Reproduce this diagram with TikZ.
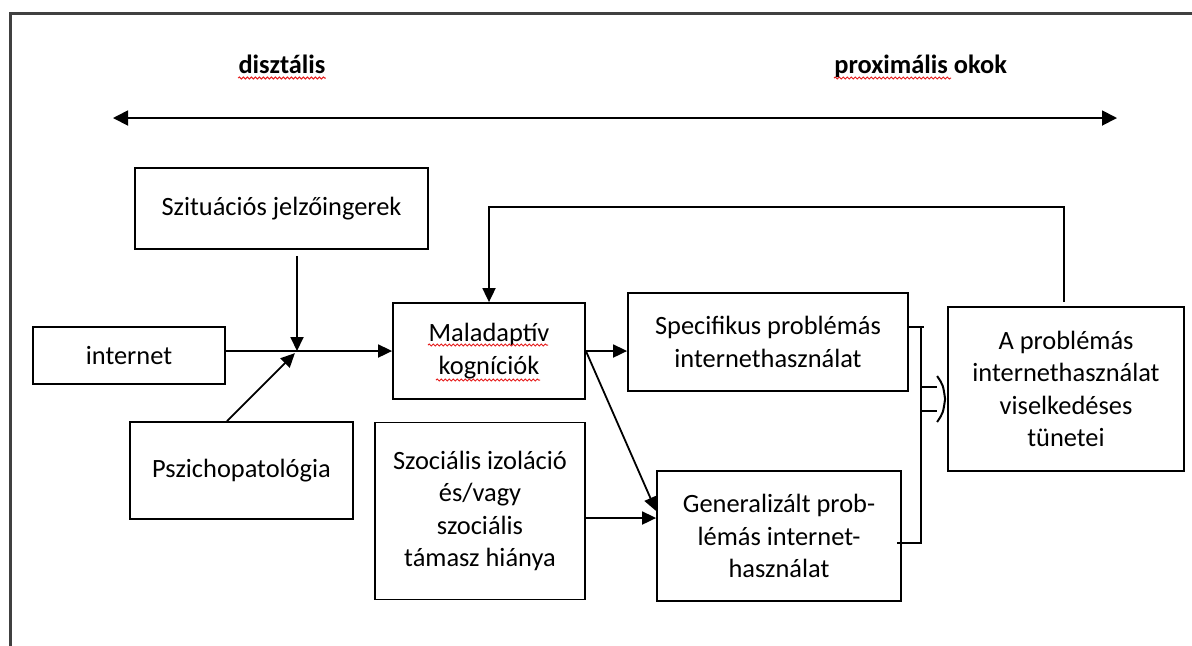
\documentclass[tikz,border=0pt]{standalone}
\usepackage{fontspec}
\setmainfont{Carlito}
\usetikzlibrary{arrows.meta,positioning,calc,decorations.pathmorphing}
\definecolor{framegray}{RGB}{64,64,64}
\definecolor{spellred}{RGB}{230,30,30}

\begin{document}
\begin{tikzpicture}[x=0.5pt, y=-0.5pt,
    box/.style={draw, line width=0.9pt, align=center, inner sep=0pt,
      font=\fontsize{13.2}{16.2}\selectfont},
    link/.style={line width=0.9pt, -{Triangle[length=7pt, width=6.5pt]}},
    squig/.style={spellred, line width=0.5pt, decorate,
      decoration={snake, amplitude=0.5pt, segment length=2pt}}]
  \useasboundingbox (0,0) rectangle (1192,645);
  % outer frame
  \draw[framegray, line width=1.5pt] (10,650) -- (10,13) -- (1200,13);

  % distal -- proximal axis
  \node[font=\fontsize{13.2}{16}\selectfont\bfseries, anchor=base, inner sep=0pt]
       (dist) at (282,73) {disztális};
  \node[font=\fontsize{13.2}{16}\selectfont\bfseries, anchor=base west, inner sep=0pt]
       (prox) at (834,73) {proximális okok};
  \draw[squig] ($(dist.base west)+(0,5)$) -- ($(dist.base east)+(0,5)$);
  \draw[squig] ($(prox.base west)+(0,5)$) -- ++(117,0);
  \coordinate (distal) at (113,118);
  \coordinate (proximal) at (1117,118);
  \draw[line width=0.9pt, {Triangle[length=7.5pt, width=7.5pt]}-{Triangle[length=7.5pt, width=7.5pt]}]
       (distal) -- (proximal);

  % boxes
  \node[box, minimum width=146.5pt, minimum height=40.5pt] (szit) at (281.5,208.5)
       {Szituációs jelzőingerek};
  \node[box, minimum width=96pt, minimum height=28.5pt] (inet) at (129,355.5) {internet};
  \node[box, minimum width=111.5pt, minimum height=48.5pt] (psych) at (241.5,470.5)
       {Pszichopatológia};
  \node[box, minimum width=96pt, minimum height=48pt] (malad) at (489,351)
       {Maladaptív\\kogníciók};
  \node[box, minimum width=105pt, minimum height=88.5pt] (szoc) at (480,511)
       {Szociális izoláció\\és/vagy\\szociális\\támasz hiánya};
  \node[box, minimum width=140pt, minimum height=49pt] (spec) at (768,342)
       {Specifikus problémás\\internethasználat};
  \node[box, minimum width=122pt, minimum height=65pt] (gen) at (779,536)
       {Generalizált prob-\\lémás internet-\\használat};
  \node[box, minimum width=118pt, minimum height=82pt] (aprob) at (1066,389)
       {A problémás\\internethasználat\\viselkedéses\\tünetei};
  \draw[squig] ($(malad.center)+(-61,-6)$) -- ($(malad.center)+(59,-6)$);
  \draw[squig] ($(malad.center)+(-53,29)$) -- ($(malad.center)+(51,29)$);

  % connectors
  \coordinate (junc) at (297,351);
  \draw[link, shorten <=3pt] (szit.south -| junc) -- (junc);
  \draw[link] (inet.east |- junc) -- (malad.west |- junc);
  \draw[link, shorten >=1.5pt] ($(psych.north)+(-14.5,0)$) -- (junc);
  \draw[link] (malad.east) -- (malad.east -| spec.west);
  \draw[link] (malad.east) -- ($(gen.west)+(0,-25)$);
  \draw[link] ($(szoc.east)+(0,7)$) -- ($(gen.west)+(0,-18)$);
  \coordinate (fbtop) at (1064,207);
  \draw[link] ($(aprob.north)+(-2,-4)$) -- (fbtop) -| (malad.north);

  % bracket and hollow arrow into the outcome box
  \coordinate (brtop) at (921,327);
  \coordinate (brmid) at (921,399);
  \coordinate (brbot) at (921,543);
  \coordinate (tip) at ($(aprob.west |- brmid)+(-2,0)$);
  \draw[line width=0.9pt] ($(brmid)+(0,-12)$) -- ($(tip)+(-8,-12)$)
                          ($(brmid)+(0,12)$) -- ($(tip)+(-8,12)$);
  \draw[line width=1pt] ($(tip)+(-8,-23)$) .. controls ($(tip)+(-2,-14)$) .. (tip)
                        .. controls ($(tip)+(-2,14)$) .. ($(tip)+(-8,23)$);
  \draw[line width=0.9pt] ($(spec.east |- brtop)+(-1,0)$) -- ($(brtop)+(3,0)$);
  \draw[line width=0.9pt] (brtop) -- (brbot) -- ($(gen.east |- brbot)+(-5,0)$);
\end{tikzpicture}
\end{document}
